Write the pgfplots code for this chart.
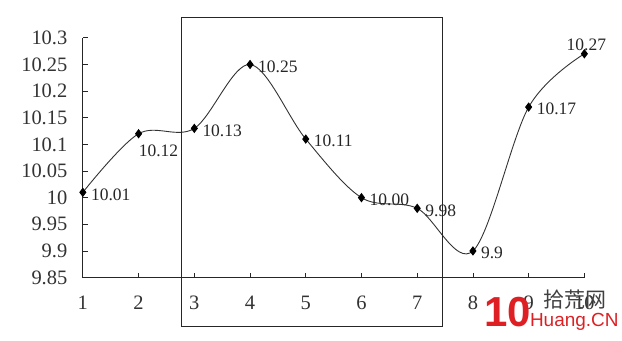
\documentclass[border=0pt]{standalone}
\usepackage{pgfplots}
\pgfplotsset{compat=1.18}
\usepackage{fontspec}
\setmainfont{Liberation Serif}
\newfontfamily\cjk{Noto Sans CJK SC}
\newfontfamily\wmfont{Liberation Sans}
\definecolor{wmred}{RGB}{222,32,36}
\begin{document}
\begin{tikzpicture}
\begin{axis}[
  scale only axis,
  width=502pt, height=240pt,
  xmin=1, xmax=10, ymin=9.85, ymax=10.3,
  axis lines=left,
  axis line style={-, line width=0.9pt, black!85},
  xtick={1,2,...,10},
  ytick={9.85,9.9,9.95,10,10.05,10.1,10.15,10.2,10.25,10.3},
  yticklabels={9.85,9.9,9.95,10,10.05,10.1,10.15,10.2,10.25,10.3},
  tick align=inside,
  major tick length=5pt,
  tick style={line width=0.8pt, black!85},
  ticklabel style={font=\fontsize{20.5}{22}\selectfont, text=black!80},
  /pgf/number format/assume math mode=true,
  xticklabel style={yshift=-15pt},
  yticklabel style={xshift=-12pt},
  clip=false,
  lbl/.style={draw=none, mark=none, nodes near coords, point meta=explicit symbolic,
    every node near coord/.append style={font=\fontsize{17.5}{19}\selectfont, text=black!85, inner sep=2pt}},
]
\path (axis cs:-0.487,9.732) rectangle (axis cs:10.66,10.371);
\addplot[black!80, line width=0.9pt, smooth, tension=0.55,
  mark=diamond*, mark size=4pt, mark options={fill=black, draw=black}]
  coordinates {(1,10.01) (2,10.12) (3,10.13) (4,10.25) (5,10.11) (6,10.00) (7,9.98) (8,9.90) (9,10.17) (10,10.27)};
\addplot[lbl, every node near coord/.append style={anchor=west, xshift=6pt, yshift=-2pt}]
  coordinates {(1,10.01)[10.01] (3,10.13)[10.13] (4,10.25)[10.25] (5,10.11)[10.11] (6,10.00)[10.00] (7,9.98)[9.98] (8,9.90)[9.9] (9,10.17)[10.17]};
\addplot[lbl, every node near coord/.append style={anchor=north west, xshift=-2pt, yshift=-9pt}]
  coordinates {(2,10.12)[10.12]};
\addplot[lbl, every node near coord/.append style={anchor=south, xshift=2pt, yshift=1pt}]
  coordinates {(10,10.27)[10.27]};
\draw[line width=0.9pt, black!85] (axis cs:2.77,9.758) rectangle (axis cs:7.45,10.3375);
\node[font=\wmfont\bfseries\fontsize{42}{42}\selectfont, text=wmred] at (axis cs:8.62,9.7845) {10};
\node[font=\cjk\fontsize{21}{21}\selectfont, text=black!75] at (axis cs:9.83,9.809) {拾荒网};
\node[font=\wmfont\fontsize{19}{19}\selectfont, text=wmred] at (axis cs:9.82,9.7676) {Huang.CN};
\end{axis}
\end{tikzpicture}
\end{document}
